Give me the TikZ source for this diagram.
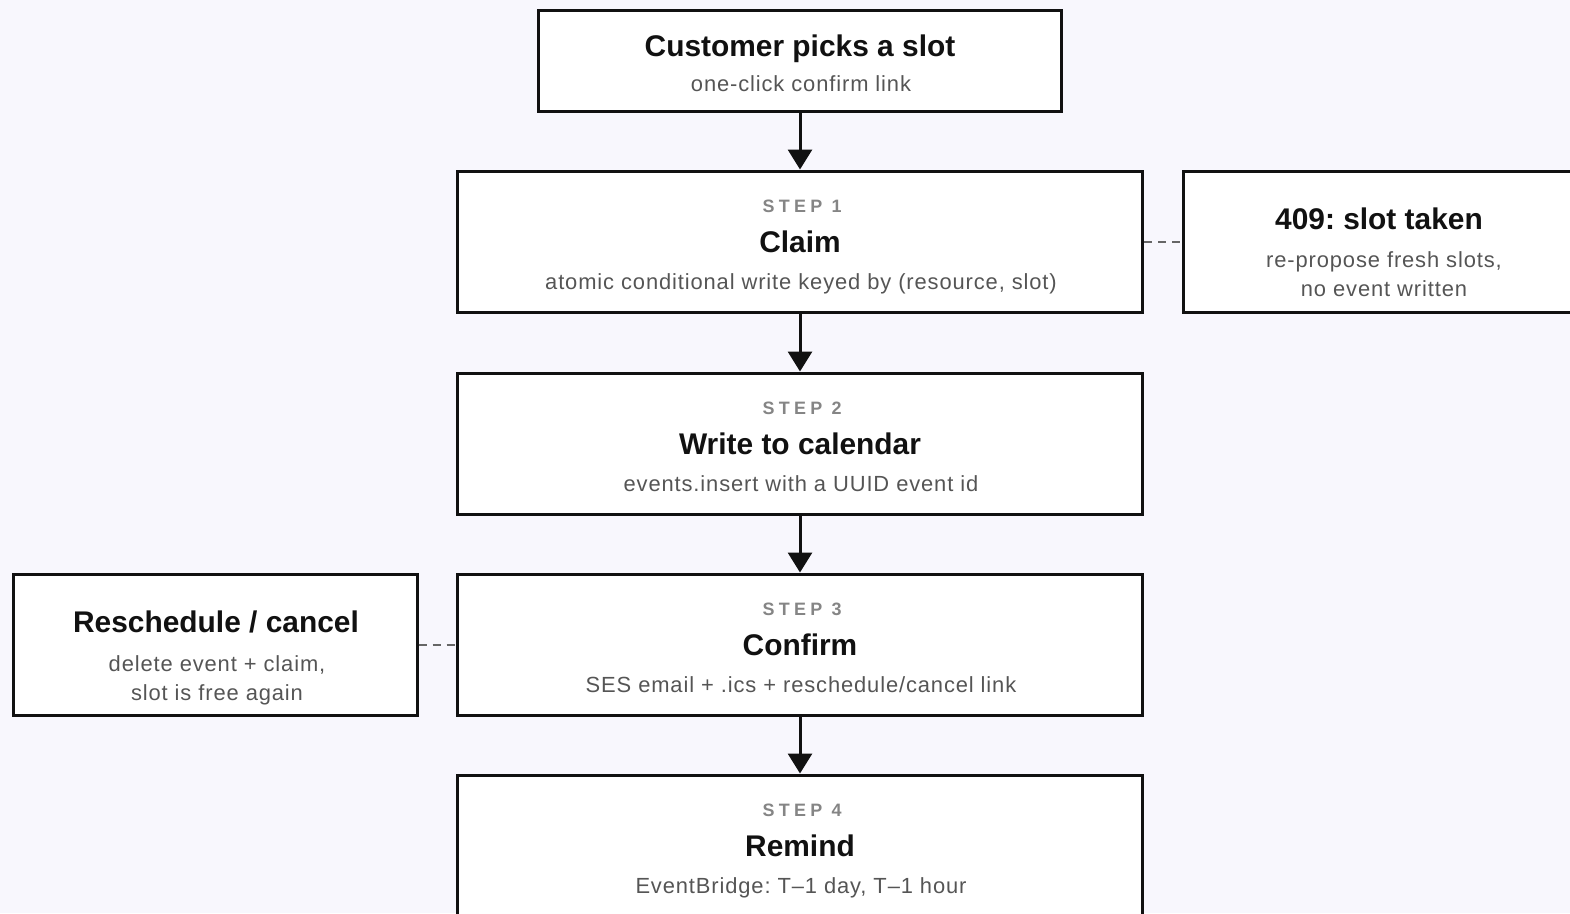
\documentclass[tikz,border=0pt]{standalone}
\usepackage{fontspec}
\setmainfont{Liberation Sans}
\frenchspacing
\usetikzlibrary{arrows.meta}
\definecolor{bg}{HTML}{F8F7FD}
\definecolor{ink}{HTML}{111111}
\definecolor{subink}{HTML}{555555}
\definecolor{stepink}{HTML}{858585}
\definecolor{dashink}{HTML}{666666}
\tikzset{
  box/.style={draw=ink, fill=white, line width=3bp, inner sep=0pt},
  ttl/.style={anchor=base, text=ink, font=\fontsize{30}{34}\selectfont\bfseries, inner sep=0pt},
  sub/.style={anchor=base, text=subink, font=\fontsize{22}{26}\selectfont\addfontfeatures{LetterSpace=4}, inner sep=0pt},
  steplbl/.style={anchor=base, text=stepink, font=\fontsize{18}{21}\selectfont\bfseries\addfontfeatures{LetterSpace=24}, inner sep=0pt},
  flow/.style={draw=ink, line width=3bp, -{Triangle[width=24bp,length=20bp]}},
  aside/.style={draw=dashink, line width=2bp, dash pattern=on 8bp off 6bp},
}
\begin{document}
\begin{tikzpicture}[x=1bp,y=-1bp]
\fill[bg] (0,0) rectangle (1570,913);
\useasboundingbox (0,0) rectangle (1570,913);
\clip (0,0) rectangle (1570,913);

% boxes, placed by centre and size
\node[box, minimum width=523bp, minimum height=101bp] (pick) at (800,60.5) {};
\node[box, minimum width=685bp, minimum height=141bp] (s1) at (800,241.5) {};
\node[box, minimum width=685bp, minimum height=141bp] (s2) at (800,443.5) {};
\node[box, minimum width=685bp, minimum height=141bp] (s3) at (800,644.5) {};
\node[box, minimum width=685bp, minimum height=141bp] (s4) at (800,845.5) {};
\node[box, minimum width=410bp, minimum height=141bp] (taken) at (1388,241.5) {};
\node[box, minimum width=403bp, minimum height=141bp] (resched) at (215.5,644.5) {};

% texts (the trailing letter space of spaced labels is offset)
\node[ttl] (pickT) at (800,56) {Customer picks a slot};
\node[sub] (pickS) at (801,91) {one-click confirm link};

\node[steplbl] (s1L) at (802,212) {STEP 1};
\node[ttl] (s1T) at (800,252) {Claim};
\node[sub] (s1S) at (801,289) {atomic conditional write keyed by (resource, slot)};

\node[steplbl] (s2L) at (802,414) {STEP 2};
\node[ttl] (s2T) at (800,454) {Write to calendar};
\node[sub] (s2S) at (801,491) {events.insert with a UUID event id};

\node[steplbl] (s3L) at (802,615) {STEP 3};
\node[ttl] (s3T) at (800,655) {Confirm};
\node[sub] (s3S) at (801,692) {SES email + .ics + reschedule/cancel link};

\node[steplbl] (s4L) at (802,816) {STEP 4};
\node[ttl] (s4T) at (800,856) {Remind};
\node[sub] (s4S) at (801,893) {EventBridge: T–1 day, T–1 hour};

\node[ttl] (takenT) at (1379,229) {409: slot taken};
\node[sub] (takenS1) at (1384,267) {re-propose fresh slots,};
\node[sub] (takenS2) at (1384,296) {no event written};

\node[ttl] (reschedT) at (216,632) {Reschedule / cancel};
\node[sub] (reschedS1) at (217,671) {delete event + claim,};
\node[sub] (reschedS2) at (217,700) {slot is free again};

% main flow
\draw[flow] (pick.south) -- (s1.north);
\draw[flow] (s1.south) -- (s2.north);
\draw[flow] (s2.south) -- (s3.north);
\draw[flow] (s3.south) -- (s4.north);

% side branches
\draw[aside] (s1.east) -- (taken.west);
\draw[aside] (resched.east) -- (s3.west);
\end{tikzpicture}
\end{document}
